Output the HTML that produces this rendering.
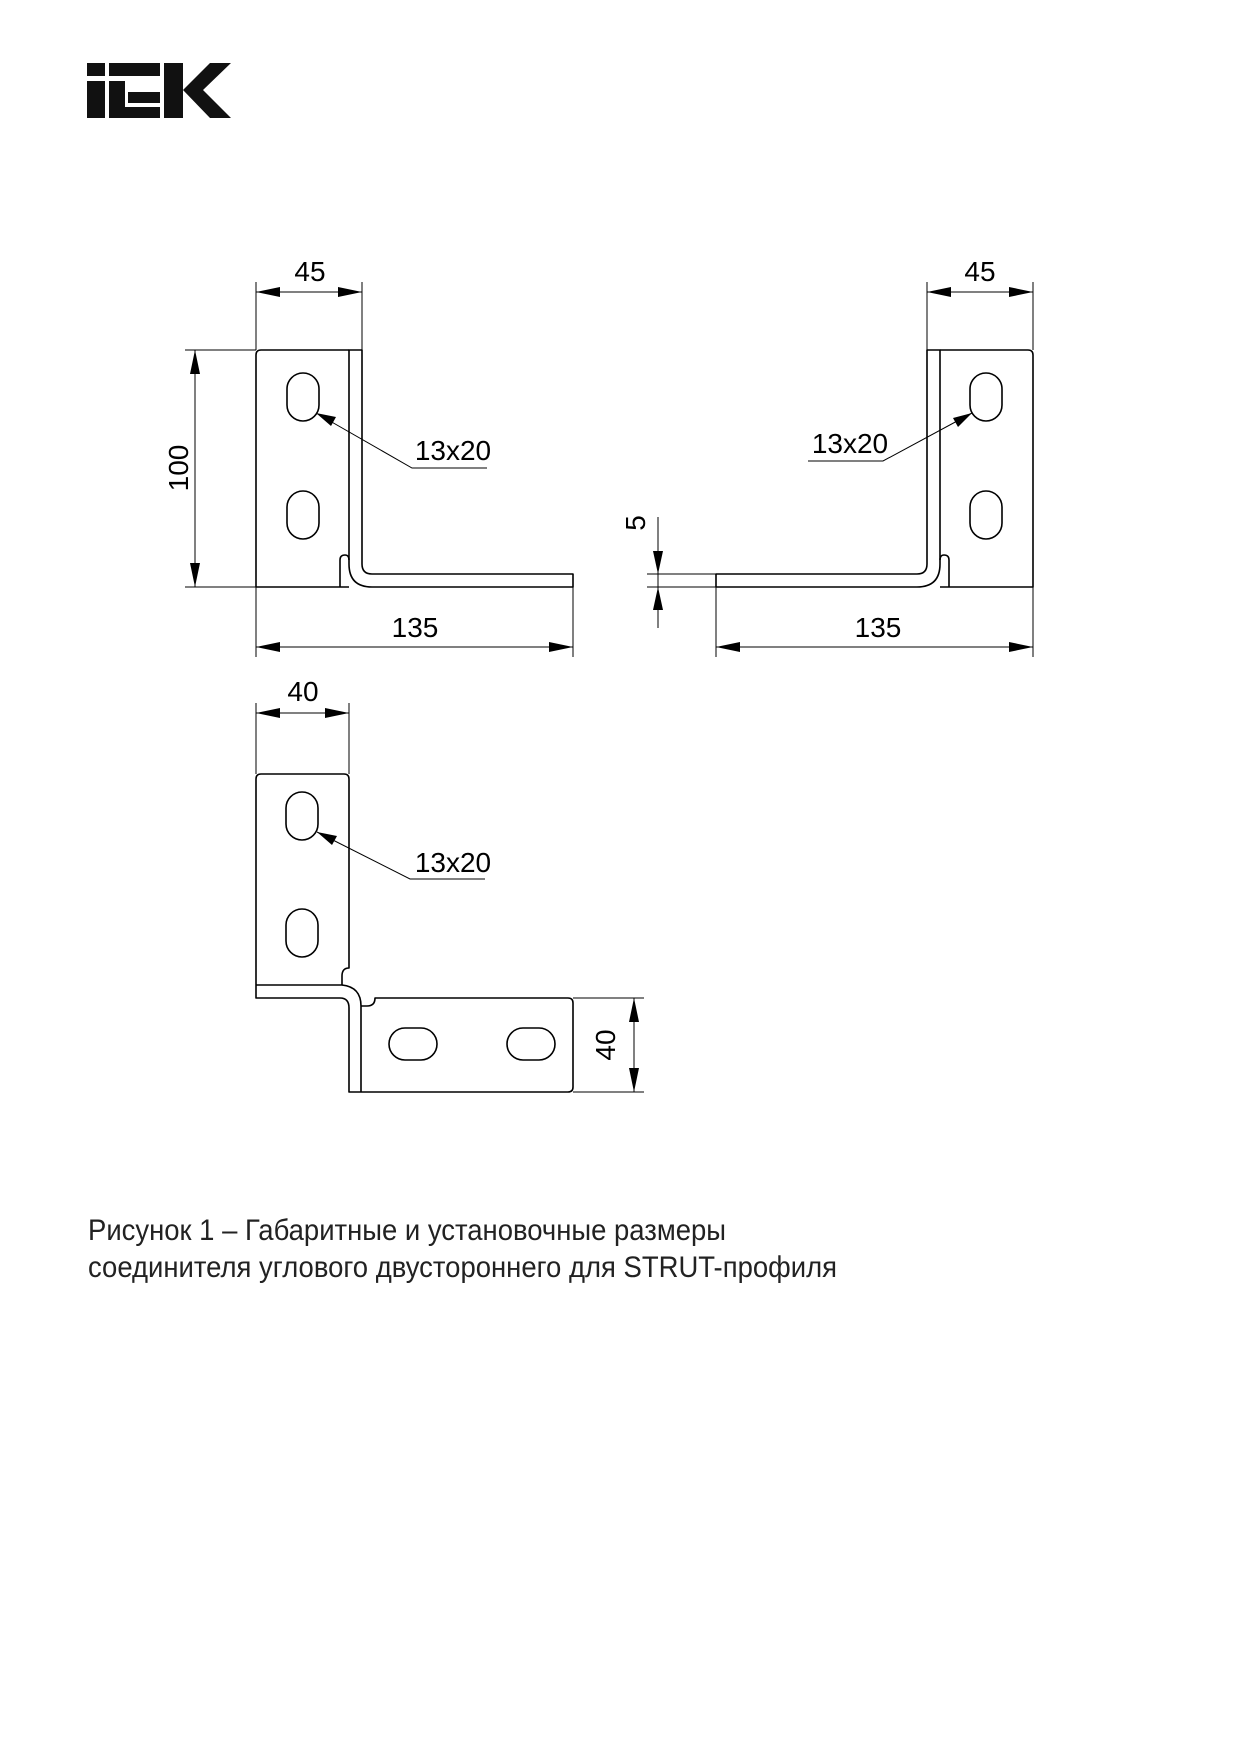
<!DOCTYPE html>
<html><head><meta charset="utf-8"><style>
html,body{margin:0;padding:0;background:#fff;}
svg{display:block;position:absolute;left:0;top:0;}
</style></head><body>
<svg width="1244" height="1751" viewBox="0 0 1244 1751" xmlns="http://www.w3.org/2000/svg" font-family="Liberation Sans, sans-serif">
<!-- logo -->
<g fill="#111">
<rect x="87" y="63" width="18" height="13"/>
<rect x="87" y="81" width="18" height="37"/>
<rect x="109" y="63" width="51" height="13"/>
<rect x="109" y="81" width="16" height="37"/>
<rect x="109" y="107" width="51" height="11"/>
<rect x="128" y="92" width="32" height="11"/>
<rect x="164" y="63" width="19" height="55"/>
<polygon points="183,90 210,63 231,63 203,90 231,118 210,118"/>
</g>

<g fill="none" stroke="#000" stroke-width="1.6" stroke-linejoin="round">
<g id="d1">
<path d="M349,350 H261 Q256,350 256,355 V587 H349"/>
<path d="M340,587 V560 Q340,555 345,555 Q349,555 349,560"/>
<path d="M349,350 H362 V564 Q362,574 372,574 H573 V587 H372 Q349,587 349,564 Z"/>
<rect x="287" y="373" width="32" height="48" rx="16"/>
<rect x="287" y="491" width="32" height="48" rx="16"/>
</g>
<g transform="translate(1289,0) scale(-1,1)">
<path d="M349,350 H261 Q256,350 256,355 V587 H349"/>
<path d="M340,587 V560 Q340,555 345,555 Q349,555 349,560"/>
<path d="M349,350 H362 V564 Q362,574 372,574 H573 V587 H372 Q349,587 349,564 Z"/>
<rect x="287" y="373" width="32" height="48" rx="16"/>
<rect x="287" y="491" width="32" height="48" rx="16"/>
</g>
<path d="M256,985 V779 Q256,774 261,774 H344 Q349,774 349,779 V968 Q342,968 342,976 V985 H256 V998 H340 Q349,998 349,1008 V1092 H568 Q573,1092 573,1087 V1003 Q573,998 568,998 H375 Q375,1006 367,1006 H361"/>
<path d="M342,985 Q361,987 361,1006 V1092"/>
<rect x="286" y="792" width="32" height="48" rx="16"/>
<rect x="286" y="909" width="32" height="48" rx="16"/>
<rect x="389" y="1028" width="48" height="32" rx="16"/>
<rect x="507" y="1028" width="48" height="32" rx="16"/>
</g>

<g stroke="#000" stroke-width="1" fill="none">
<path d="M256,282 V350 M362,282 V350 M256,292 H362"/>
<path d="M185,350 H256 M185,587 H256 M195,350 V587"/>
<path d="M256,587 V657 M573,587 V657 M256,647 H573"/>
<path d="M316,413 L412,468 H487"/>
<path d="M927,282 V350 M1033,282 V350 M927,292 H1033"/>
<path d="M716,587 V657 M1033,587 V657 M716,647 H1033"/>
<path d="M647,574 H716 M647,587 H716 M658,517 V628"/>
<path d="M972,413 L883,461 H808"/>
<path d="M256,703 V774 M349,703 V774 M256,713 H349"/>
<path d="M573,998 H644 M573,1092 H644 M634,998 V1092"/>
<path d="M317,832 L410,879 H485"/>
</g>

<g fill="#000" stroke="none">
<polygon points="256,292 280,287 280,297"/><polygon points="362,292 338,287 338,297"/>
<polygon points="256,647 280,642 280,652"/><polygon points="573,647 549,642 549,652"/>
<polygon points="927,292 951,287 951,297"/><polygon points="1033,292 1009,287 1009,297"/>
<polygon points="716,647 740,642 740,652"/><polygon points="1033,647 1009,642 1009,652"/>
<polygon points="256,713 280,708 280,718"/><polygon points="349,713 325,708 325,718"/>
<polygon points="195,350 190,374 200,374"/><polygon points="195,587 190,563 200,563"/>
<polygon points="634,998 629,1022 639,1022"/><polygon points="634,1092 629,1068 639,1068"/>
<polygon points="658,574 653,551 663,551"/><polygon points="658,587 653,610 663,610"/>
<polygon points="316,413 336,417 331,426"/>
<polygon points="972,413 958,427 953,418"/>
<polygon points="317,832 337,836 332,845"/>
</g>

<g font-size="28" fill="#000" text-anchor="middle">
<text x="310" y="281">45</text>
<text x="415" y="637">135</text>
<text x="453" y="460">13x20</text>
<text transform="translate(188,468) rotate(-90)">100</text>
<text x="980" y="281">45</text>
<text x="878" y="637">135</text>
<text x="850" y="453">13x20</text>
<text transform="translate(645,523) rotate(-90)">5</text>
<text x="303" y="701">40</text>
<text x="453" y="872">13x20</text>
<text transform="translate(615,1045) rotate(-90)">40</text>
</g>

<g font-size="30" fill="#222">
<text x="88" y="1240" textLength="638" lengthAdjust="spacingAndGlyphs">Рисунок 1 – Габаритные и установочные размеры</text>
<text x="88" y="1277" textLength="749" lengthAdjust="spacingAndGlyphs">соединителя углового двустороннего для STRUT-профиля</text>
</g>
</svg>
</body></html>
